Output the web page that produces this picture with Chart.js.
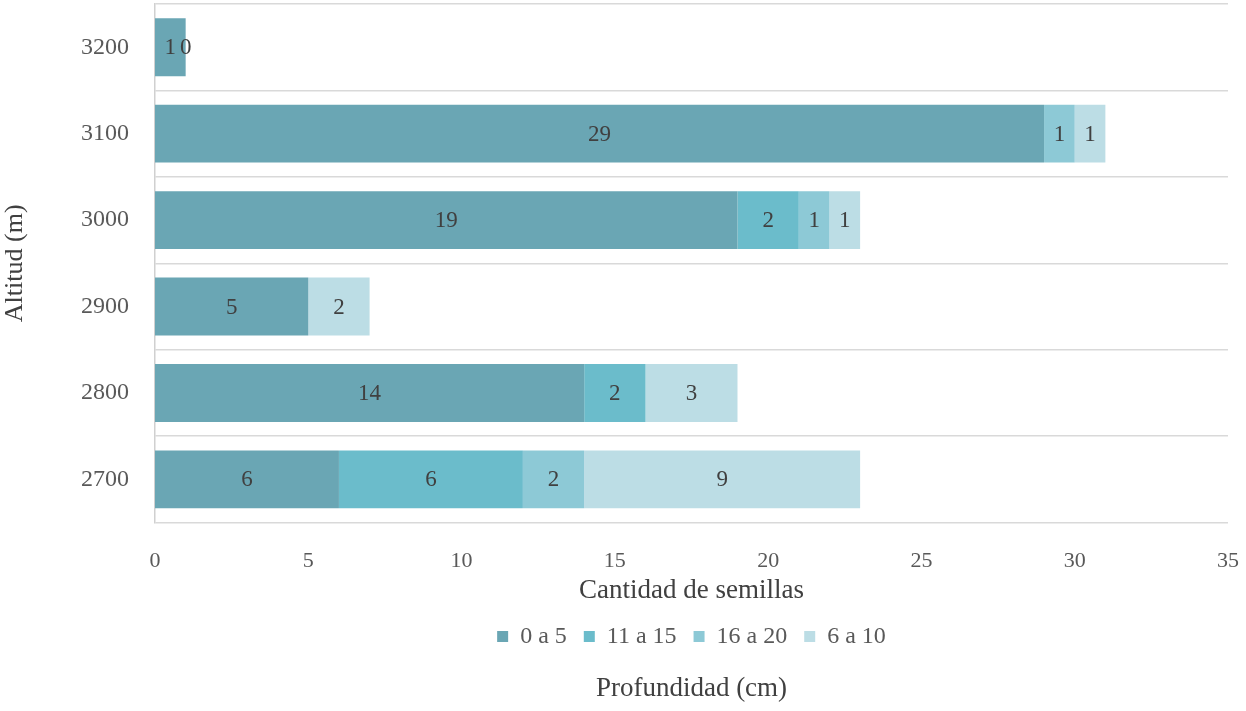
<!DOCTYPE html>
<html>
<head>
<meta charset="utf-8">
<script src="https://cdn.jsdelivr.net/npm/chart.js@4.4.1/dist/chart.umd.min.js"></script>
<style>
  html, body { margin: 0; padding: 0; background: #ffffff; }
  #wrap { width: 1246px; height: 711px; }
</style>
</head>
<body>
<div id="wrap"><canvas id="chart"></canvas></div>
<script>
// altitudes, de arriba hacia abajo
const altitudes = ['3200', '3100', '3000', '2900', '2800', '2700'];

// cantidad de semillas por profundidad (cm)
const prof0a5   = [1, 29, 19, 5, 14, 6];
const prof11a15 = [null, null, 2, null, 2, 6];
const prof16a20 = [null, 1, 1, null, null, 2];
const prof6a10  = [0, 1, 1, 2, 3, 9];

const xTicks = [0, 5, 10, 15, 20, 25, 30, 35];

const serieNames = ['0 a 5', '11 a 15', '16 a 20', '6 a 10'];
const serieColors = ['#6aa6b4', '#6bbccb', '#8dc9d6', '#bcdde5'];

const serif = "'Liberation Serif', 'DejaVu Serif', serif";

// etiquetas de valor en el centro de cada segmento
const valueLabels = {
  id: 'valueLabels',
  afterDatasetsDraw(chart) {
    const ctx = chart.ctx;
    ctx.save();
    ctx.font = '23px ' + serif;
    ctx.fillStyle = '#404040';
    ctx.textAlign = 'center';
    ctx.textBaseline = 'middle';
    chart.data.datasets.forEach((ds, i) => {
      const meta = chart.getDatasetMeta(i);
      meta.data.forEach((bar, j) => {
        const v = ds.data[j];
        if (v === null || v === undefined) return;
        const p = bar.getProps(['x', 'y', 'base'], true);
        ctx.fillText(String(v), (p.x + p.base) / 2, p.y + 1);
      });
    });
    ctx.restore();
  }
};

const datasets = [prof0a5, prof11a15, prof16a20, prof6a10].map((d, i) => ({
  label: serieNames[i],
  data: d,
  backgroundColor: serieColors[i],
  borderWidth: 0,
  categoryPercentage: 1,
  barPercentage: 0.67
}));

new Chart(document.getElementById('chart'), {
  type: 'bar',
  data: { labels: altitudes, datasets },
  plugins: [valueLabels],
  options: {
    indexAxis: 'y',
    responsive: true,
    maintainAspectRatio: false,
    animation: false,
    layout: { padding: { top: 4, right: 18, left: 0, bottom: 6 } },
    plugins: {
      legend: {
        position: 'bottom',
        fullSize: false,
        labels: {
          color: '#595959',
          font: { family: serif, size: 24 },
          boxWidth: 11,
          boxHeight: 11,
          padding: 17
        }
      },
      title: {
        display: true,
        position: 'bottom',
        fullSize: false,
        text: 'Profundidad (cm)',
        color: '#404040',
        font: { family: serif, size: 27, weight: 'normal' },
        padding: { top: 14, bottom: 0 }
      },
      tooltip: { enabled: false }
    },
    scales: {
      x: {
        stacked: true,
        min: 0,
        max: 35,
        afterBuildTicks: s => { s.ticks = xTicks.map(v => ({ value: v })); },
        afterFit: s => { s.height = 85; s.paddingLeft = 0; s.paddingRight = 0; },
        grid: { display: false, drawTicks: false },
        border: { display: false },
        ticks: {
          color: '#595959',
          font: { family: serif, size: 22 },
          padding: 25
        },
        title: {
          display: true,
          text: 'Cantidad de semillas',
          color: '#404040',
          font: { family: serif, size: 27 },
          padding: { top: 0, bottom: 0 }
        }
      },
      y: {
        stacked: true,
        afterFit: s => { s.width = 155; s.paddingTop = 0; s.paddingBottom = 0; },
        grid: {
          color: '#d9d9d9',
          lineWidth: 1.5,
          drawTicks: false,
          offset: true
        },
        border: { display: true, color: '#d0d0d0', width: 1.5 },
        ticks: {
          color: '#595959',
          font: { family: serif, size: 24 },
          padding: 26
        },
        title: {
          display: true,
          text: 'Altitud (m)',
          color: '#404040',
          font: { family: serif, size: 26 },
          padding: { top: 0, bottom: 2 }
        }
      }
    }
  }
});
</script>
</body>
</html>
